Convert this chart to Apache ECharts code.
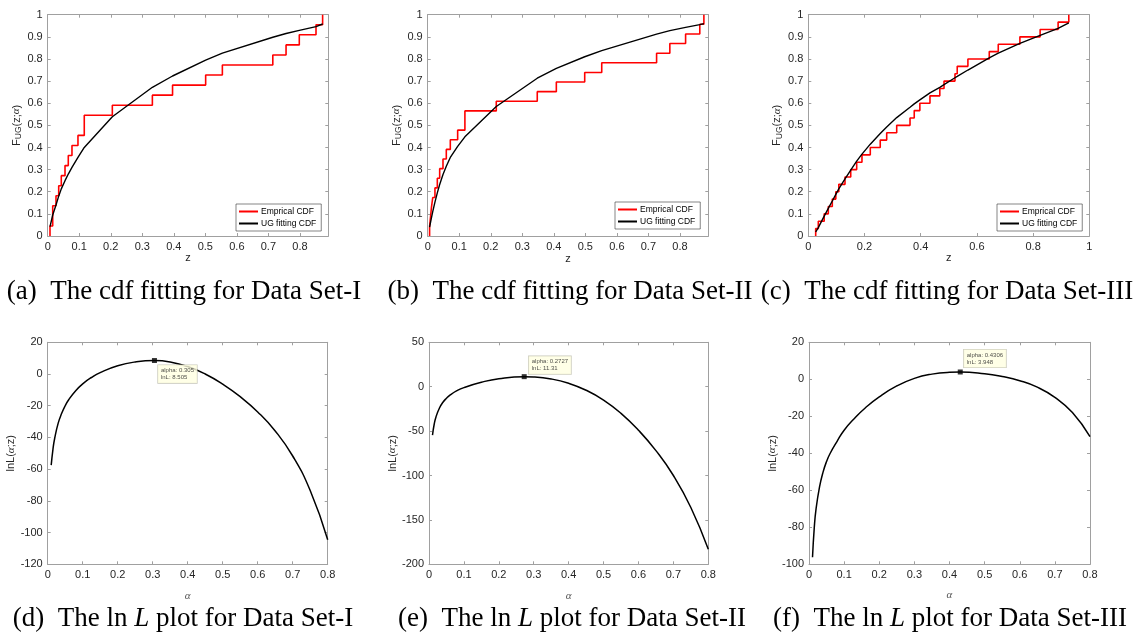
<!DOCTYPE html>
<html><head><meta charset="utf-8">
<script src="https://cdn.jsdelivr.net/npm/echarts@6/dist/echarts.min.js"></script>
<style>html,body{margin:0;padding:0;background:#fff}#c{width:1134px;height:633px}</style>
</head><body><div id="c"></div>
<script>
// ---------- Data Set-I (n=22) ----------
const zI = [0.0073, 0.0159, 0.0159, 0.0263, 0.0349, 0.0431, 0.0549, 0.0653, 0.077, 0.096, 0.116, 0.116, 0.205, 0.332, 0.396, 0.501, 0.554, 0.714, 0.756, 0.798, 0.851, 0.872];
const fitI_z = [0.0073, 0.0159, 0.0263, 0.0349, 0.0431, 0.0549, 0.0653, 0.077, 0.096, 0.116, 0.205, 0.332, 0.396, 0.501, 0.554, 0.714, 0.756, 0.798, 0.851, 0.872];
const fitI_F = [0.042, 0.095, 0.14, 0.18, 0.213, 0.25, 0.28, 0.31, 0.355, 0.40, 0.539, 0.672, 0.723, 0.795, 0.826, 0.898, 0.915, 0.929, 0.946, 0.958];
// ---------- Data Set-II (n=23) ----------
const zII = [0.006, 0.009, 0.012, 0.016, 0.023, 0.0305, 0.038, 0.0485, 0.059, 0.0717, 0.095, 0.118, 0.118, 0.2175, 0.3475, 0.408, 0.498, 0.552, 0.726, 0.768, 0.818, 0.863, 0.876];
const fitII_z = [0.006, 0.009, 0.012, 0.016, 0.023, 0.0305, 0.038, 0.0485, 0.059, 0.0717, 0.095, 0.118, 0.2175, 0.3475, 0.408, 0.498, 0.552, 0.726, 0.768, 0.818, 0.863, 0.876];
const fitII_F = [0.04, 0.062, 0.083, 0.11, 0.153, 0.195, 0.233, 0.278, 0.315, 0.355, 0.405, 0.448, 0.585, 0.713, 0.757, 0.81, 0.838, 0.912, 0.928, 0.943, 0.955, 0.96];
// ---------- Data Set-III (n=30) ----------
const zIII = [0.0263, 0.0356, 0.0566, 0.0712, 0.0854, 0.0979, 0.1085, 0.1306, 0.151, 0.1722, 0.191, 0.2206, 0.256, 0.279, 0.3146, 0.362, 0.377, 0.397, 0.433, 0.468, 0.483, 0.522, 0.530, 0.568, 0.644, 0.676, 0.753, 0.825, 0.889, 0.927];
const fitIII_F = [0.018, 0.038, 0.09, 0.125, 0.158, 0.188, 0.213, 0.258, 0.298, 0.338, 0.37, 0.415, 0.463, 0.493, 0.535, 0.582, 0.597, 0.615, 0.647, 0.672, 0.684, 0.715, 0.721, 0.75, 0.805, 0.826, 0.87, 0.907, 0.938, 0.963];
// ---------- ln L curves ----------
const alphaI = [0.01, 0.015, 0.02, 0.03, 0.04, 0.05, 0.06, 0.08, 0.1, 0.125, 0.15, 0.2, 0.25, 0.305, 0.35, 0.4, 0.45, 0.5, 0.55, 0.6, 0.65, 0.7, 0.75, 0.8];
const lnLI = [-57.5, -47.5, -40.5, -31, -24.8, -20, -16.2, -10.5, -6.2, -2.2, 0.9, 5.2, 7.6, 8.505, 7.6, 4.7, 0, -6.4, -14.3, -23.9, -35.9, -51.7, -73.5, -104.5];
const peakI = [0.305, 8.505];
const alphaII = [0.01, 0.015, 0.02, 0.03, 0.04, 0.05, 0.06, 0.08, 0.1, 0.15, 0.2, 0.2727, 0.3, 0.35, 0.4, 0.45, 0.5, 0.55, 0.6, 0.65, 0.7, 0.75, 0.8];
const lnLII = [-54.5, -42, -34, -24, -17.5, -13, -9.5, -4.5, -1, 5, 9, 11.31, 11, 8.7, 3.8, -4, -15, -30, -49, -72, -100, -136, -183];
const peakII = [0.2727, 11.31];
const alphaIII = [0.01, 0.015, 0.02, 0.03, 0.04, 0.05, 0.06, 0.08, 0.1, 0.13, 0.16, 0.2, 0.25, 0.3, 0.35, 0.4, 0.4306, 0.5, 0.55, 0.6, 0.65, 0.7, 0.75, 0.8];
const lnLIII = [-96.2, -80.2, -70.2, -58.2, -50.2, -44.4, -40.1, -33.5, -27.5, -21, -15.5, -9.5, -3.6, 0.5, 2.8, 3.8, 3.948, 3.0, 1.5, -0.75, -4.25, -9.75, -18, -31];
const peakIII = [0.4306, 3.948];
// ---------- texts ----------
const captions = [
  '(a)  The cdf fitting for Data Set-I', '(b)  The cdf fitting for Data Set-II', '(c)  The cdf fitting for Data Set-III',
  '(d)  The ln {i|L} plot for Data Set-I', '(e)  The ln {i|L} plot for Data Set-II', '(f)  The ln {i|L} plot for Data Set-III'
];
const legendNames = ['Emprical CDF', 'UG fitting CDF'];

const FONT = '"Liberation Sans", Helvetica, Arial, sans-serif';
const SERIF = '"Liberation Serif", "DejaVu Serif", serif';
const AXC = '#a0a0a0';

function ecdf(z) { const n = z.length; const p = [[z[0], 0]]; z.forEach((v, i) => p.push([v, (i + 1) / n])); return p; }
function zip(a, b) { return a.map((v, i) => [v, b[i]]); }
function fmt(v) { return String(Math.round(v * 1000) / 1000); }

const grids = [
  {left: 47.7, top: 14.7, width: 280.6, height: 221.3},
  {left: 427.7, top: 14.7, width: 280.6, height: 221.3},
  {left: 808.3, top: 14.7, width: 281, height: 221.3},
  {left: 47.7, top: 342.3, width: 280, height: 222},
  {left: 429, top: 342.3, width: 279.3, height: 222},
  {left: 809, top: 342.3, width: 281, height: 222}
];

const xAxes = [], yAxes = [], series = [];

function axis(gi, c, isX, main) {
  return {
    type: 'value', gridIndex: gi, min: c.min, max: c.max, interval: c.interval,
    position: isX ? (main ? 'bottom' : 'top') : (main ? 'left' : 'right'),
    axisLine: {show: true, onZero: false, lineStyle: {color: AXC, width: 1}},
    axisTick: {show: true, inside: true, length: 3, lineStyle: {color: AXC, width: 1}},
    axisLabel: {show: main, color: '#262626', fontSize: 11, fontFamily: FONT, margin: 5,
      showMaxLabel: c.hideMax ? false : null, formatter: fmt},
    splitLine: {show: false},
    name: main ? c.name : '', nameLocation: 'middle', nameGap: c.nameGap || 0,
    nameTextStyle: c.nameStyle || {}
  };
}

const yNameCdf = {
  name: '{a|F}{s|UG}{a|(z;}{g|α}{a|)}',
  nameStyle: {color: '#262626', rich: {
    a: {fontSize: 11, fontFamily: FONT, color: '#262626', lineHeight: 14},
    s: {fontSize: 8.5, fontFamily: FONT, color: '#262626', lineHeight: 14, verticalAlign: 'bottom', padding: [5, 0, 0, 0]},
    g: {fontSize: 11, fontFamily: SERIF, fontStyle: 'italic', color: '#262626', lineHeight: 14}
  }}
};
const yNameLnL = {
  name: '{a|lnL(}{g|α}{a|;z)}',
  nameStyle: {color: '#262626', rich: {
    a: {fontSize: 11, fontFamily: FONT, color: '#262626'},
    g: {fontSize: 11, fontFamily: SERIF, fontStyle: 'italic', color: '#262626'}
  }}
};
const xNameAlpha = {color: '#555', fontSize: 11, fontFamily: SERIF, fontStyle: 'italic'};
const xNameZ = {color: '#262626', fontSize: 11, fontFamily: FONT};

const panels = [
  {x: {min: 0, max: 0.89, interval: 0.1, hideMax: true, name: 'z', nameGap: 10, nameStyle: xNameZ}, y: Object.assign({min: 0, max: 1, interval: 0.1, nameGap: 24}, yNameCdf)},
  {x: {min: 0, max: 0.89, interval: 0.1, hideMax: true, name: 'z', nameGap: 17, nameStyle: xNameZ}, y: Object.assign({min: 0, max: 1, interval: 0.1, nameGap: 24}, yNameCdf)},
  {x: {min: 0, max: 1, interval: 0.2, name: 'z', nameGap: 9, nameStyle: xNameZ}, y: Object.assign({min: 0, max: 1, interval: 0.1, nameGap: 23}, yNameCdf)},
  {x: {min: 0, max: 0.8, interval: 0.1, name: 'α', nameGap: 26, nameStyle: xNameAlpha}, y: Object.assign({min: -120, max: 20, interval: 20, nameGap: 26}, yNameLnL)},
  {x: {min: 0, max: 0.8, interval: 0.1, name: 'α', nameGap: 26, nameStyle: xNameAlpha}, y: Object.assign({min: -200, max: 50, interval: 50, nameGap: 27}, yNameLnL)},
  {x: {min: 0, max: 0.8, interval: 0.1, name: 'α', nameGap: 25, nameStyle: xNameAlpha}, y: Object.assign({min: -100, max: 20, interval: 20, nameGap: 26}, yNameLnL)}
];
panels.forEach((p, gi) => {
  xAxes.push(axis(gi, p.x, true, true));
  xAxes.push(axis(gi, p.x, true, false));
  yAxes.push(axis(gi, p.y, false, true));
  yAxes.push(axis(gi, p.y, false, false));
});

const cdfSets = [
  [ecdf(zI), zip(fitI_z, fitI_F)],
  [ecdf(zII), zip(fitII_z, fitII_F)],
  [ecdf(zIII), zip(zIII, fitIII_F)]
];
cdfSets.forEach((s, gi) => {
  series.push({type: 'line', name: legendNames[0], xAxisIndex: gi * 2, yAxisIndex: gi * 2, data: s[0], step: 'end',
    showSymbol: false, lineStyle: {color: '#ff0000', width: 1.6}, itemStyle: {color: '#ff0000'}, silent: true});
  series.push({type: 'line', name: legendNames[1], xAxisIndex: gi * 2, yAxisIndex: gi * 2, data: s[1],
    showSymbol: false, lineStyle: {color: '#000', width: 1.4}, itemStyle: {color: '#000'}, silent: true, z: 3});
});

const lnSets = [
  {d: zip(alphaI, lnLI), pk: peakI, pos: [6, 7]},
  {d: zip(alphaII, lnLII), pk: peakII, pos: [7, -18]},
  {d: zip(alphaIII, lnLIII), pk: peakIII, pos: [6, -20]}
];
lnSets.forEach((s, k) => {
  const gi = k + 3;
  series.push({type: 'line', xAxisIndex: gi * 2, yAxisIndex: gi * 2, data: s.d, smooth: 0.5,
    showSymbol: false, lineStyle: {color: '#000', width: 1.5}, silent: true});
  series.push({type: 'scatter', xAxisIndex: gi * 2, yAxisIndex: gi * 2, data: [s.pk], symbol: 'rect', symbolSize: 5,
    itemStyle: {color: '#000'}, z: 5, silent: true,
    label: {show: true, position: s.pos, formatter: 'alpha: ' + s.pk[0] + '\nlnL: ' + s.pk[1],
      fontSize: 6, fontFamily: FONT, color: '#222', lineHeight: 7, backgroundColor: '#ffffe1',
      borderColor: '#b8b8a8', borderWidth: 0.6, padding: [2, 3, 2, 3], align: 'left', verticalAlign: 'top'}});
});

const legendPos = [[236, 204], [615, 202], [997, 204]];
const legends = legendPos.map(p => ({
  left: p[0], top: p[1], orient: 'vertical', data: legendNames, icon: 'rect', itemWidth: 19, itemHeight: 2,
  itemGap: 3, padding: [3, 5, 3, 3], borderColor: '#333', borderWidth: 0.6, backgroundColor: '#fff',
  textStyle: {fontSize: 8.5, fontFamily: FONT, color: '#000', padding: [0, 0, 0, -2]}, selectedMode: false
}));

const capPos = [[184, 292], [570, 292], [947, 292], [183, 619], [572, 619], [950, 619]];
const CAPSIZE = 27;
const graphics = captions.map((t, i) => ({
  type: 'text', x: capPos[i][0], y: capPos[i][1], silent: true,
  style: {text: t, fontSize: CAPSIZE, fontFamily: SERIF, fill: '#000', align: 'center', verticalAlign: 'middle',
    textAlign: 'center', textVerticalAlign: 'middle',
    rich: {i: {fontSize: CAPSIZE, fontFamily: SERIF, fontStyle: 'italic', fill: '#000'}}}
}));

const chart = echarts.init(document.getElementById('c'), null, {renderer: 'canvas'});
chart.setOption({
  animation: false,
  backgroundColor: '#fff',
  grid: grids,
  xAxis: xAxes,
  yAxis: yAxes,
  legend: legends,
  series: series,
  graphic: graphics
});
</script></body></html>
